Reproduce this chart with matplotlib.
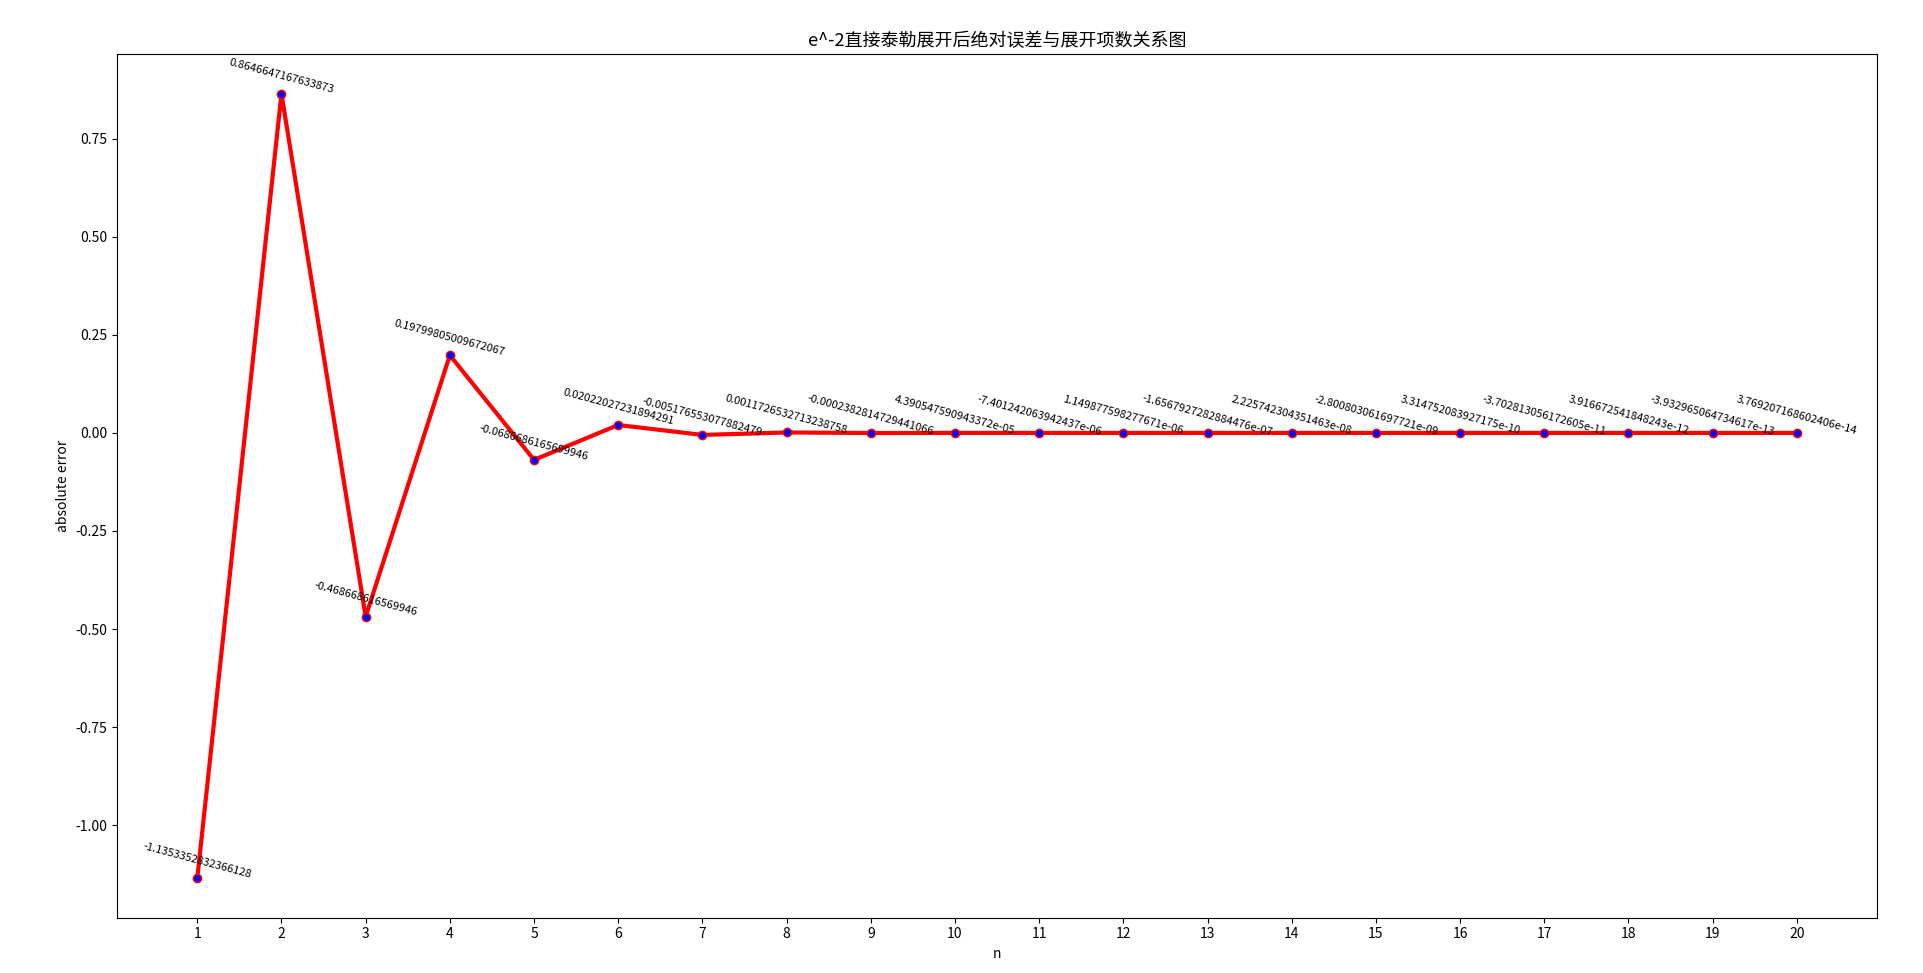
import matplotlib
matplotlib.use('Agg')
import matplotlib.pyplot as plt

plt.rcParams['font.family'] = ['Noto Sans CJK SC', 'DejaVu Sans']
plt.rcParams['axes.unicode_minus'] = False

n = list(range(1, 21))
errors = [-1.1353352832366128, 0.8646647167633873, -0.468668616569946, 0.19799805009672067,
          -0.0686686165699946, 0.02022027231894291, -0.005176553077882479, 0.0011726532713238758,
          -0.0002382814729441066, 4.390547590943372e-05, -7.401242063942437e-06, 1.149877598277671e-06,
          -1.6567927282884476e-07, 2.225742304351463e-08, -2.800803061697721e-09, 3.314752083927175e-10,
          -3.702813056172605e-11, 3.916672541848243e-12, -3.932965064734617e-13, 3.769207168602406e-14]

fig = plt.figure(figsize=(19.23, 9.73), dpi=100)
ax = fig.add_axes([0.061, 0.057, 0.915, 0.887])
ax.plot(n, errors, color='red', linewidth=3, marker='o', markersize=6,
        markerfacecolor='blue', markeredgecolor='red')
for x, y in zip(n, errors):
    ax.text(x, y + 0.045, str(y), ha='center', va='center', rotation=-15, fontsize=8)
ax.set_xticks(n)
ax.set_title('e^-2直接泰勒展开后绝对误差与展开项数关系图', fontsize=13)
ax.set_xlabel('n')
ax.set_ylabel('absolute error')
fig.savefig('out.png')
